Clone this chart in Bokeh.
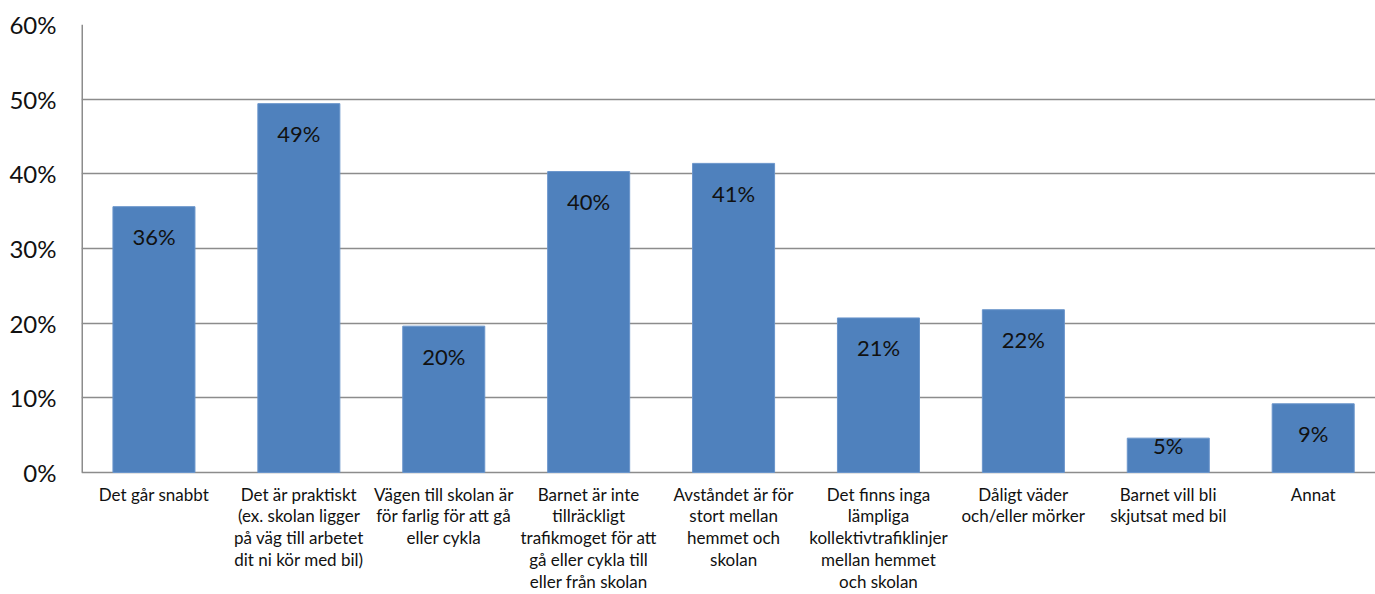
from bokeh.plotting import figure
from bokeh.models import ColumnDataSource, Range1d, FixedTicker, PrintfTickFormatter
from bokeh.embed import file_html
from bokeh.resources import INLINE
from bokeh.core.properties import value

# Reasons, share of respondents (%)
categories = [
    "Det går snabbt",
    "Det är praktiskt\n(ex. skolan ligger\npå väg till arbetet\ndit ni kör med bil)",
    "Vägen till skolan är\nför farlig för att gå\neller cykla",
    "Barnet är inte\ntillräckligt\ntrafikmoget för att\ngå eller cykla till\neller från skolan",
    "Avståndet är för\nstort mellan\nhemmet och\nskolan",
    "Det finns inga\nlämpliga\nkollektivtrafiklinjer\nmellan hemmet\noch skolan",
    "Dåligt väder\noch/eller mörker",
    "Barnet vill bli\nskjutsat med bil",
    "Annat",
]
shares = [35.6, 49.4, 19.6, 40.3, 41.4, 20.7, 21.8, 4.6, 9.2]
y_ticks = [0, 10, 20, 30, 40, 50, 60]

FONT = "Lato"
BAR = "#4F81BD"
GRID = "#8C8C8C"
TEXT = "#111111"

W, H = 1375, 594
TOP, LEFT = 24, 81
LABEL_BAND = 122          # pixels kept under the 0% line for category names
Y_MAX = 60
units_per_px = Y_MAX / (H - TOP - LABEL_BAND)
X0, X1 = -0.5, 8.43

xs = list(range(len(categories)))
labels = [f"{v:.0f}%" for v in shares]
# value labels sit inside the bar top; short bars keep them closer to the edge
offsets = [30 if v > 8 else 7 for v in shares]
src = ColumnDataSource(dict(x=xs, top=shares, label=labels, off=offsets))
cat_src = ColumnDataSource(dict(x=xs, name=categories, y=[0] * len(xs)))

# the frame runs to the bottom of the canvas so the wrapped category
# names can be drawn as text glyphs beneath the 0% line
p = figure(
    width=W, height=H,
    output_backend="svg", toolbar_location=None,
    x_range=Range1d(X0, X1),
    y_range=Range1d(-LABEL_BAND * units_per_px, Y_MAX),
    min_border_left=LEFT, min_border_right=0, min_border_top=TOP, min_border_bottom=0,
)
p.outline_line_color = None
p.background_fill_color = "white"
p.border_fill_color = "white"

# horizontal gridlines (0% doubles as the category axis line)
p.ygrid.ticker = FixedTicker(ticks=y_ticks)
p.ygrid.grid_line_color = GRID
p.ygrid.grid_line_width = 1.5
p.xgrid.grid_line_color = None

p.vbar(x="x", top="top", width=0.566, bottom=0, source=src,
       fill_color=BAR, line_color="#6A95CB", line_width=1)

# value axis line, only across the value range
p.segment(x0=[X0], y0=[0], x1=[X0], y1=[Y_MAX], line_color=GRID, line_width=3)

p.text(x="x", y="top", text="label", source=src, y_offset="off",
       text_align="center", text_baseline="middle",
       text_font=value(FONT), text_font_size="22px", text_color=TEXT)

p.text(x="x", y="y", text="name", source=cat_src, y_offset=11,
       text_align="center", text_baseline="top",
       text_font=value(FONT), text_font_size="17px", text_color=TEXT,
       text_line_height=1.04)

# y axis: tick labels only
p.yaxis.ticker = FixedTicker(ticks=y_ticks)
p.yaxis.formatter = PrintfTickFormatter(format="%d%%")
p.yaxis.major_tick_line_color = None
p.yaxis.minor_tick_line_color = None
p.yaxis.axis_line_color = None
p.yaxis.major_label_text_font = FONT
p.yaxis.major_label_text_font_size = "24px"
p.yaxis.major_label_text_color = TEXT
p.yaxis.major_label_standoff = 19

p.xaxis.visible = False

open("out.html", "w").write(file_html(p, INLINE))
